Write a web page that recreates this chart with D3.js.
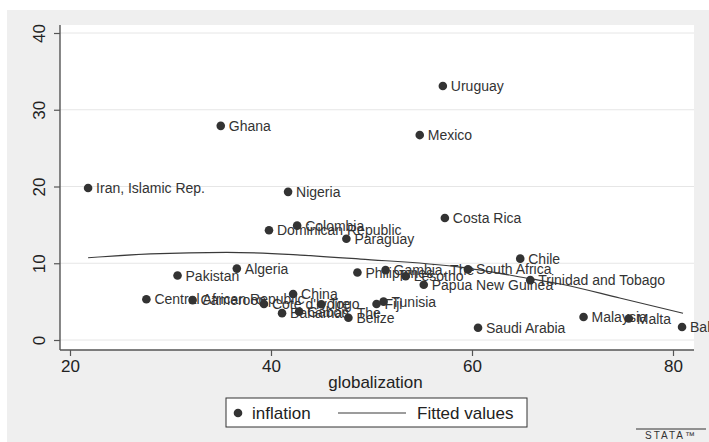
<!DOCTYPE html>
<html>
<head>
<meta charset="utf-8">
<script src="https://cdn.jsdelivr.net/npm/d3@7"></script>
<style>
  body { margin: 0; background: #fff; }
  text { font-family: "Liberation Sans", Arial, sans-serif; }
</style>
</head>
<body>
<div id="chart"></div>
<script>
// countries, globalization index (x) and inflation (y)
var countries = ["Uruguay", "Mexico", "Ghana", "Iran, Islamic Rep.", "Nigeria", "Costa Rica",
  "Colombia", "Dominican Republic", "Paraguay", "Chile", "Algeria", "South Africa",
  "Gambia, The", "Philippines", "Pakistan", "Lesotho", "Trinidad and Tobago",
  "Papua New Guinea", "China", "Central African Republic", "Cameroon", "Tunisia", "Fiji",
  "Cote d'Ivoire", "Togo", "Gabon", "Bahamas, The", "Malaysia", "Malta", "Belize",
  "Bahrain", "Saudi Arabia"];
var globalization = [57.1, 54.8, 35.0, 21.8, 41.7, 57.3,
  42.6, 39.8, 47.5, 64.8, 36.6, 59.6,
  51.4, 48.6, 30.7, 53.4, 65.8,
  55.2, 42.2, 27.6, 32.2, 51.2, 50.5,
  39.3, 45.0, 42.8, 41.1, 71.1, 75.6, 47.7,
  80.9, 60.6];
var inflation = [33.1, 26.7, 27.9, 19.8, 19.3, 15.9,
  14.9, 14.3, 13.2, 10.6, 9.3, 9.2,
  9.1, 8.8, 8.4, 8.3, 7.8,
  7.2, 6.0, 5.3, 5.2, 5.0, 4.7,
  4.7, 4.65, 3.7, 3.5, 3.0, 2.8, 2.9,
  1.7, 1.6];

// fitted curve, read at a handful of x positions
var fitX = [21.8, 28.0, 35.6, 42.9, 48.9, 58.8, 65.8, 68.8, 74.7, 81.0];
var fitY = [10.72, 11.21, 11.43, 11.07, 10.55, 9.50, 7.99, 7.30, 5.47, 3.48];

var xTicks = [20, 40, 60, 80];
var yTicks = [0, 10, 20, 30, 40];

var width = 709, height = 442;
var plot = { left: 60, right: 694, top: 25, bottom: 350 };

var svg = d3.select("#chart").append("svg")
    .attr("width", width)
    .attr("height", height);

// graph region + plot region
svg.append("rect")
    .attr("x", 7).attr("y", 10)
    .attr("width", width - 7).attr("height", height - 10)
    .attr("fill", "#efefef");
svg.append("rect")
    .attr("x", plot.left).attr("y", plot.top)
    .attr("width", plot.right - plot.left).attr("height", plot.bottom - plot.top)
    .attr("fill", "#fff");

const xScale = d3.scaleLinear().domain([20, 80]).range([70, 673]);
const yScale = d3.scaleLinear().domain([0, 40]).range([340, 33]);

// gridlines
svg.append("g").selectAll("line")
    .data(yTicks)
    .join("line")
    .attr("x1", plot.left).attr("x2", plot.right)
    .attr("y1", d => yScale(d)).attr("y2", d => yScale(d))
    .attr("stroke", "#e6e6e6")
    .attr("stroke-width", 1);

// axes
var xAxis = d3.axisBottom(xScale).tickValues(xTicks).tickSize(6).tickPadding(4);
var yAxis = d3.axisLeft(yScale).tickValues(yTicks).tickSize(6).tickPadding(4);

var gx = svg.append("g")
    .attr("class", "x axis")
    .attr("transform", "translate(0," + plot.bottom + ")")
    .call(xAxis);
gx.select(".domain").remove();
gx.append("line")
    .attr("x1", plot.left).attr("x2", plot.right)
    .attr("stroke", "#555").attr("stroke-width", 1.4);
gx.selectAll(".tick line").attr("stroke", "#555").attr("stroke-width", 1.2);
gx.selectAll(".tick text")
    .attr("fill", "#222")
    .style("font-size", "17px")
    .style("font-family", "Liberation Sans, Arial, sans-serif");

var gy = svg.append("g")
    .attr("class", "y axis")
    .attr("transform", "translate(" + plot.left + ",0)")
    .call(yAxis);
gy.select(".domain").remove();
gy.append("line")
    .attr("y1", plot.top).attr("y2", plot.bottom)
    .attr("stroke", "#555").attr("stroke-width", 1.4);
gy.selectAll(".tick line").attr("stroke", "#555").attr("stroke-width", 1.2);
gy.selectAll(".tick text")
    .attr("fill", "#222")
    .attr("x", null).attr("dy", null)
    .attr("text-anchor", "middle")
    .attr("transform", "translate(-15,0) rotate(-90)")
    .style("font-size", "17px")
    .style("font-family", "Liberation Sans, Arial, sans-serif");

svg.append("text")
    .attr("x", (xScale(20) + xScale(80)) / 2 + 4)
    .attr("y", 388)
    .attr("text-anchor", "middle")
    .attr("fill", "#222")
    .style("font-size", "17px")
    .text("globalization");

// fitted values
var fit = fitX.map((x, i) => ({ x: x, y: fitY[i] }));
var line = d3.line()
    .curve(d3.curveMonotoneX)
    .x(d => xScale(d.x))
    .y(d => yScale(d.y));

svg.append("path")
    .datum(fit)
    .attr("fill", "none")
    .attr("stroke", "#3a3a3a")
    .attr("stroke-width", 1.2)
    .attr("d", line);

// points + labels
var data = countries.map((c, i) => ({ name: c, q: globalization[i], p: inflation[i] }));

svg.append("g").selectAll("circle")
    .data(data)
    .join("circle")
    .attr("cx", d => xScale(d.q))
    .attr("cy", d => yScale(d.p))
    .attr("r", 4.3)
    .attr("fill", "#333");

svg.append("g").selectAll("text")
    .data(data)
    .join("text")
    .attr("x", d => xScale(d.q) + 8)
    .attr("y", d => yScale(d.p))
    .attr("dy", "0.36em")
    .attr("fill", "#333")
    .style("font-size", "14px")
    .text(d => d.name);

// legend
var lg = svg.append("g");
lg.append("rect")
    .attr("x", 226).attr("y", 398)
    .attr("width", 301).attr("height", 29)
    .attr("fill", "#fff")
    .attr("stroke", "#333").attr("stroke-width", 1);
lg.append("circle")
    .attr("cx", 238).attr("cy", 413).attr("r", 4.3).attr("fill", "#333");
lg.append("text")
    .attr("x", 252).attr("y", 413).attr("dy", "0.36em")
    .attr("fill", "#222").style("font-size", "17px")
    .text("inflation");
lg.append("line")
    .attr("x1", 338).attr("x2", 406).attr("y1", 413).attr("y2", 413)
    .attr("stroke", "#3a3a3a").attr("stroke-width", 1.2);
lg.append("text")
    .attr("x", 417).attr("y", 413).attr("dy", "0.36em")
    .attr("fill", "#222").style("font-size", "17px")
    .text("Fitted values");

// stata mark
svg.append("line")
    .attr("x1", 636).attr("x2", 706).attr("y1", 429).attr("y2", 429)
    .attr("stroke", "#333").attr("stroke-width", 1);
svg.append("text")
    .attr("x", 671).attr("y", 439)
    .attr("text-anchor", "middle")
    .attr("fill", "#333")
    .style("font-size", "10px")
    .style("letter-spacing", "2px")
    .text("STATA™");
</script>
</body>
</html>
